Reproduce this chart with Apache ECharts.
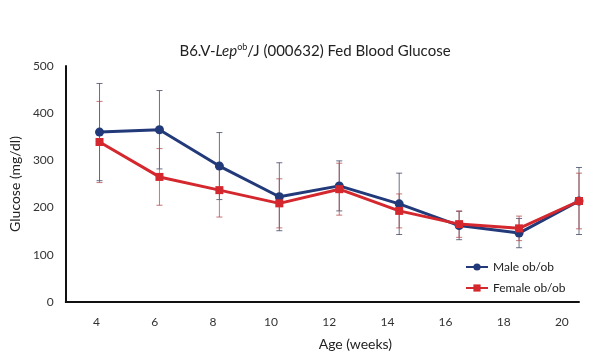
<!DOCTYPE html>
<html><head><meta charset="utf-8">
<script src="https://cdn.jsdelivr.net/npm/echarts@6/dist/echarts.min.js"></script>
<style>html,body{margin:0;padding:0;background:#fff}#c{width:600px;height:360px}</style>
</head><body><div id="c"></div>
<script>
const weeks = [4, 6, 8, 10, 12, 14, 16, 18, 20];
const maleMean = [360, 365, 288, 223, 246, 208, 162, 146, 214];
const maleErr = [103, 83, 71, 72, 53, 65, 30, 31, 71];
const femaleMean = [339, 265, 237, 209, 239, 193, 165, 156, 214];
const femaleErr = [86, 60, 57, 52, 55, 36, 28, 26, 59];
const yTicks = [0, 100, 200, 300, 400, 500];

const maleColor = '#22397a';
const femaleColor = '#d4282e';
const font = 'Lato, "Noto Sans", sans-serif';

function errData(mean, err) {
  return weeks.map((w, i) => [w, mean[i] - err[i], mean[i] + err[i]]);
}
function errSeries(name, mean, err, color) {
  return {
    type: 'custom', name: name + ' err', z: 1,
    xAxisIndex: 0, yAxisIndex: 0,
    data: errData(mean, err),
    renderItem: function (params, api) {
      const x = api.value(0);
      const lo = api.coord([x, api.value(1)]);
      const hi = api.coord([x, api.value(2)]);
      const cw = 3;
      const st = { stroke: color, lineWidth: 1, opacity: 0.75 };
      return {
        type: 'group',
        children: [
          { type: 'line', shape: { x1: lo[0], y1: lo[1], x2: hi[0], y2: hi[1] }, style: st },
          { type: 'line', shape: { x1: lo[0] - cw, y1: lo[1], x2: lo[0] + cw, y2: lo[1] }, style: st },
          { type: 'line', shape: { x1: hi[0] - cw, y1: hi[1], x2: hi[0] + cw, y2: hi[1] }, style: st }
        ]
      };
    },
    silent: true
  };
}

const chart = echarts.init(document.getElementById('c'), null, { renderer: 'canvas' });
chart.setOption({
  animation: false,
  backgroundColor: '#fff',
  title: {
    text: 'B6.V-{i|Lep}{s|ob}/J (000632) Fed Blood Glucose',
    left: 310, top: 38, textAlign: 'center',
    textStyle: {
      fontFamily: font, fontSize: 15, fontWeight: 'normal', color: '#222',
      rich: {
        i: { fontFamily: font, fontSize: 15, fontStyle: 'italic', color: '#222' },
        s: { fontFamily: font, fontSize: 9, color: '#222', verticalAlign: 'top', padding: [0, 0, 7, 0] }
      }
    }
  },
  grid: { left: 62, right: 21, top: 66, bottom: 58 },
  legend: {
    orient: 'vertical', left: 460, top: 256, itemGap: 9,
    itemWidth: 22, itemHeight: 9,
    data: ['Male ob/ob', 'Female ob/ob'],
    textStyle: { fontFamily: font, fontSize: 12, color: '#222' }
  },
  xAxis: [
    {
      type: 'value', min: 2.874, max: 20,
      axisLine: { show: true, lineStyle: { color: '#111', width: 2 } },
      axisTick: { show: false }, axisLabel: { show: false },
      splitLine: { show: false }
    },
    {
      type: 'value', min: 2.94, max: 20.59, position: 'bottom',
      axisLine: { show: false }, axisTick: { show: false },
      splitLine: { show: false },
      axisLabel: { customValues: weeks, margin: 14, fontFamily: font, fontSize: 12, color: '#333' },
      name: 'Age (weeks)', nameLocation: 'middle', nameGap: 35,
      nameTextStyle: { fontFamily: font, fontSize: 14, color: '#222', padding: [0, 0, 0, 66] }
    }
  ],
  yAxis: {
    type: 'value', min: 0, max: 500, interval: 100,
    axisLine: { show: true, lineStyle: { color: '#111', width: 2 } },
    axisTick: { show: false }, splitLine: { show: false },
    axisLabel: { margin: 12, fontFamily: font, fontSize: 12, color: '#333' },
    name: 'Glucose (mg/dl)', nameLocation: 'middle', nameGap: 40,
    nameTextStyle: { fontFamily: font, fontSize: 14, color: '#222' }
  },
  series: [
    errSeries('Male', maleMean, maleErr, '#3a3f5e'),
    errSeries('Female', femaleMean, femaleErr, '#b4484c'),
    {
      name: 'Male ob/ob', type: 'line', z: 3,
      data: weeks.map((w, i) => [w, maleMean[i]]),
      symbol: 'circle', symbolSize: 9,
      lineStyle: { color: maleColor, width: 3 },
      itemStyle: { color: maleColor }
    },
    {
      name: 'Female ob/ob', type: 'line', z: 4,
      data: weeks.map((w, i) => [w, femaleMean[i]]),
      symbol: 'rect', symbolSize: 8,
      lineStyle: { color: femaleColor, width: 3 },
      itemStyle: { color: femaleColor }
    }
  ]
});
</script></body></html>
